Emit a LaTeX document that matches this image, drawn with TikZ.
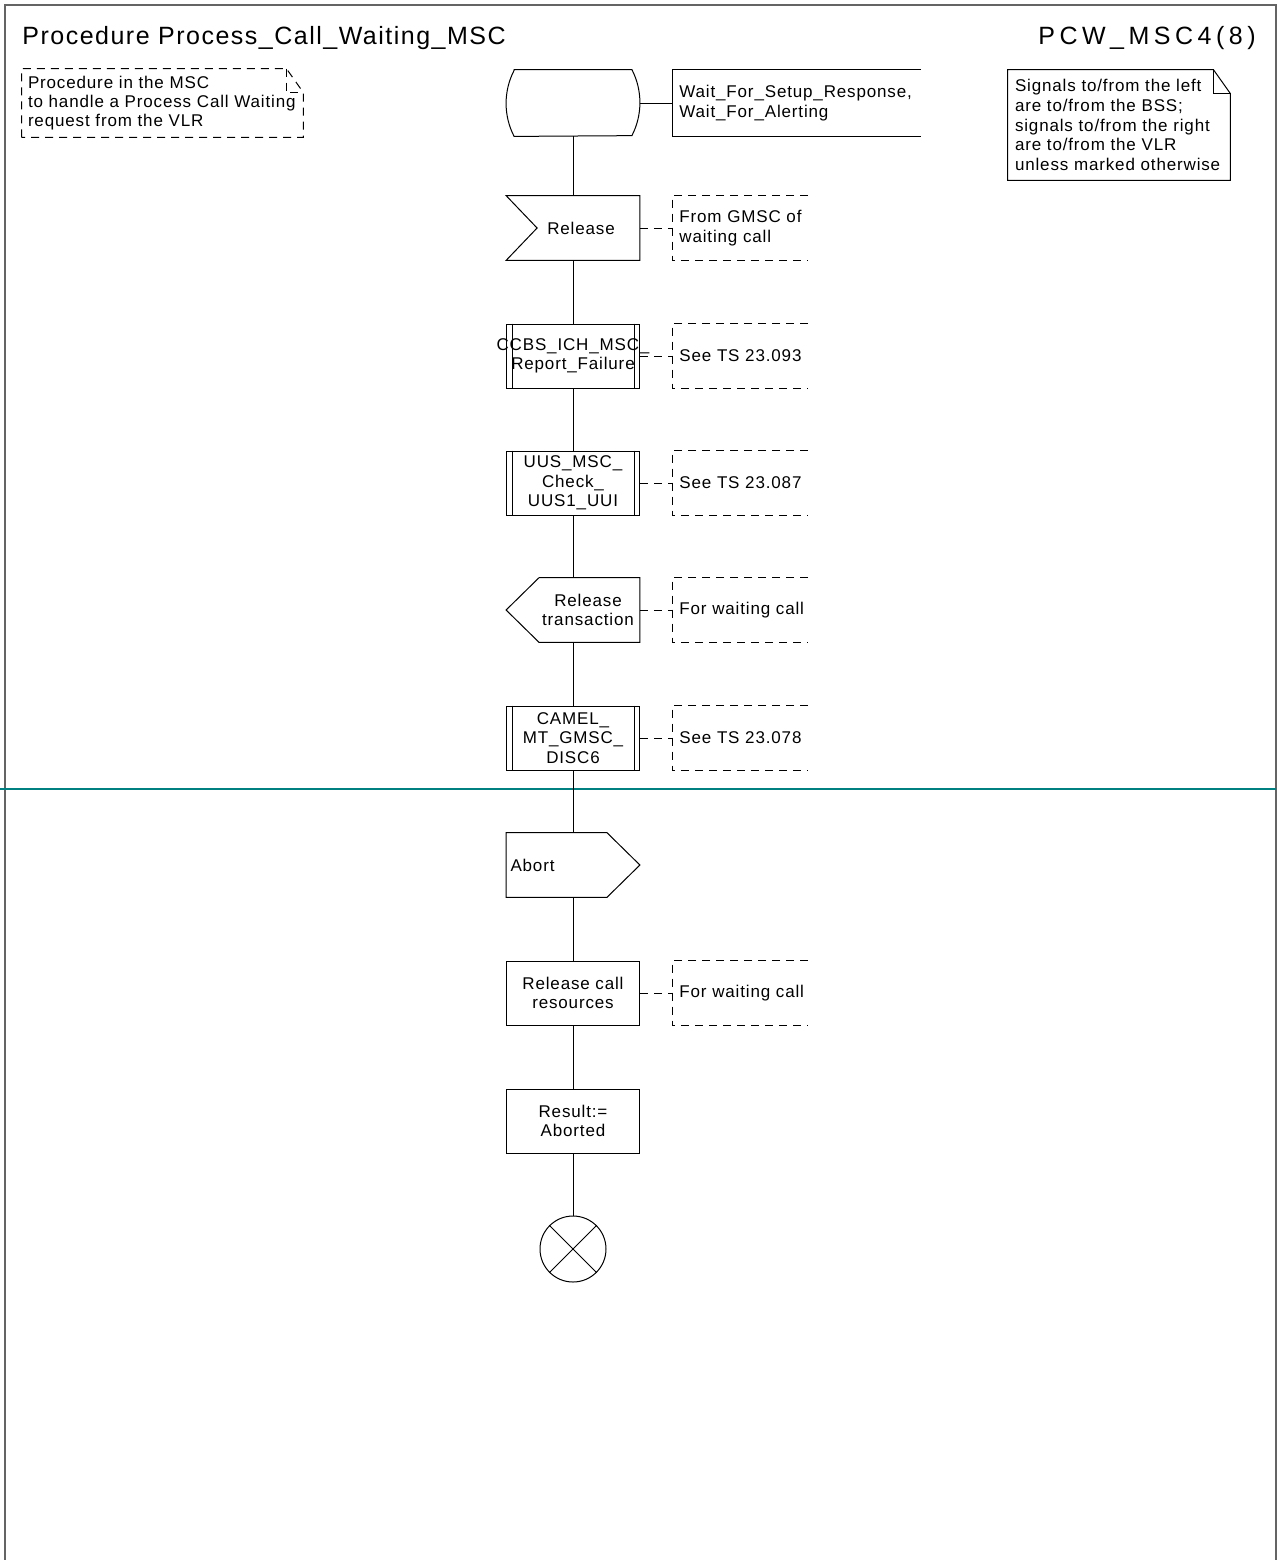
\documentclass[tikz,border=0pt]{standalone}
\usepackage{fontspec}
\setmainfont{Liberation Sans}[LetterSpace=5]
\newfontfamily\titlefont{Liberation Sans}[LetterSpace=6]
\newfontfamily\pagefont{Liberation Sans}[LetterSpace=18]
\usetikzlibrary{calc}
\definecolor{framegray}{RGB}{100,100,100}
\definecolor{tealline}{RGB}{0,128,128}
\begin{document}
\begin{tikzpicture}[x=0.5pt,y=-0.5pt,
  fs/.style={font=\fontsize{8.5}{9.8}\selectfont},
  ghost/.style={minimum width=66.5pt, minimum height=32pt, inner sep=0pt, align=center, fs},
  flowbox/.style={ghost, draw, line width=0.5pt},
  cmt/.style={anchor=west, text width=80pt, inner xsep=3.5pt, inner ysep=0pt, minimum height=32pt, align=left, fs},
  flow/.style={line width=0.5pt},
  cdash/.style={dash pattern=on 4pt off 3pt, line width=0.5pt},
  frameline/.style={draw=framegray, line width=0.8pt},
]
\useasboundingbox (0,0) rectangle (1278,1560);
% frame
\draw[frameline] (5,1560) -- (5,5) -- (1276,5) -- (1276,1560);
% titles
\node[anchor=base west, inner sep=0pt, font=\titlefont\fontsize{12.5}{14}\selectfont] (title) at (22,44) {Procedure Process\_Call\_Waiting\_MSC};
\node[anchor=base east, inner sep=0pt, font=\pagefont\fontsize{12.5}{14}\selectfont] (page) at (1256,44) {PCW\_MSC4(8)};

% top-left comment
\node[minimum width=140.5pt, minimum height=34pt, text width=134.5pt, inner xsep=3pt, inner ysep=0pt, align=left, font=\fontsize{8.5}{9.3}\selectfont] (note1) at (162.5,103) {Procedure in the MSC\\to handle a Process Call Waiting\\request from the VLR};
\draw[cdash] (note1.south west) -- (note1.north west) -- ($(note1.north east)+(-8.5pt,0)$) -- ($(note1.north east)+(0,-12pt)$) -- (note1.south east) -- cycle;
\draw[cdash] ($(note1.north east)+(-8.5pt,0)$) -- ($(note1.north east)+(-8.5pt,-12pt)$) -- ($(note1.north east)+(0,-12pt)$);

% top-right note
\node[fs, minimum width=111pt, minimum height=55pt, text width=104pt, inner xsep=3.5pt, inner ysep=0pt, align=left] (note2) at (1119,125) {Signals to/from the left\\are to/from the BSS;\\signals to/from the right\\are to/from the VLR\\unless marked otherwise};
\draw[flow] (note2.south west) -- (note2.north west) -- ($(note2.north east)+(-8.5pt,0)$) -- ($(note2.north east)+(0,-12pt)$) -- (note2.south east) -- cycle;
\draw[flow] ($(note2.north east)+(-8.5pt,0)$) -- ($(note2.north east)+(-8.5pt,-12pt)$) -- ($(note2.north east)+(0,-12pt)$);

% start state
\node[ghost, minimum height=33pt] (st) at (573,103) {};
\draw[flow] ($(st.north west)+(4pt,0)$) -- ($(st.north east)+(-4pt,0)$) arc[start angle=27.3, end angle=-27.3, radius=36pt] -- ($(st.south west)+(4pt,0)$) arc[start angle=207.3, end angle=152.7, radius=36pt] -- cycle;
\node[anchor=west, minimum width=124pt, text width=117pt, inner xsep=3.5pt, inner ysep=0pt, minimum height=33pt, align=left, fs] (sl) at (672,103) {Wait\_For\_Setup\_Response,\\Wait\_For\_Alerting};
\draw[flow] (sl.north east) -- (sl.north west) -- (sl.south west) -- (sl.south east);
\draw[flow] (st.east) -- (sl.west);

% Release input
\node[ghost] (rel) at (573,228) {\hspace*{8pt}Release};
\draw[flow] (rel.north west) -- (rel.north east) -- (rel.south east) -- (rel.south west) -- ($(rel.west)+(15.5pt,0)$) -- cycle;
\node[cmt] (c1) at (672,228) {From GMSC of\\waiting call};

% CCBS procedure
\node[flowbox] (ccbs) at (573,356) {\makebox[60pt]{CCBS\_ICH\_MSC\_}\\Report\_Failure};
\node[cmt] (c2) at (672,356) {See TS 23.093};

% UUS procedure
\node[flowbox] (uus) at (573,483) {UUS\_MSC\_\\Check\_\\UUS1\_UUI};
\node[cmt] (c3) at (672,483) {See TS 23.087};

% Release transaction output (left)
\node[ghost] (reltr) at (573,610) {};
\draw[flow] ($(reltr.north west)+(16.5pt,0)$) -- (reltr.north east) -- (reltr.south east) -- ($(reltr.south west)+(16.5pt,0)$) -- (reltr.west) -- cycle;
\node[fs, align=center, inner sep=0pt] (reltrtext) at ($(reltr)+(7.5pt,0)$) {Release\\transaction};
\node[cmt] (c4) at (672,610) {For waiting call};

% CAMEL procedure
\node[flowbox] (camel) at (573,738) {CAMEL\_\\MT\_GMSC\_\\DISC6};
\node[cmt] (c5) at (672,738) {See TS 23.078};

% procedure double bars
\foreach \n in {ccbs,uus,camel}{
  \draw[flow] ($(\n.north west)+(3pt,0)$) -- ($(\n.south west)+(3pt,0)$);
  \draw[flow] ($(\n.north east)+(-3pt,0)$) -- ($(\n.south east)+(-3pt,0)$);
}

% separator line
\draw[draw=tealline, line width=1pt] (0,789) -- (1276,789);

% Abort output (right)
\node[ghost, text width=62.5pt, inner xsep=2pt, align=left] (abort) at (573,865) {Abort};
\draw[flow] (abort.north west) -- ($(abort.north east)+(-16.5pt,0)$) -- (abort.east) -- ($(abort.south east)+(-16.5pt,0)$) -- (abort.south west) -- cycle;

% tasks
\node[flowbox] (rcr) at (573,993) {Release call\\resources};
\node[cmt] (c6) at (672,993) {For waiting call};
\node[flowbox] (res) at (573,1121) {Result:=\\Aborted};

% end
\node[draw, circle, minimum size=33pt, inner sep=0pt, line width=0.5pt] (end) at (573,1249) {};
\draw[flow] (end.north west) -- (end.south east);
\draw[flow] (end.north east) -- (end.south west);

% comment brackets and dashed links
\foreach \n/\c in {rel/c1,ccbs/c2,uus/c3,reltr/c4,camel/c5,rcr/c6}{
  \draw[cdash] ($(\c.north west)+(68pt,0)$) -- (\c.north west) -- (\c.south west) -- ($(\c.south west)+(68pt,0)$);
  \draw[cdash] (\n.east) -- (\c.west);
}

% flow line
\draw[flow] (st.south) -- (rel.north);
\draw[flow] (rel.south) -- (ccbs.north);
\draw[flow] (ccbs.south) -- (uus.north);
\draw[flow] (uus.south) -- (reltr.north);
\draw[flow] (reltr.south) -- (camel.north);
\draw[flow] (camel.south) -- (abort.north);
\draw[flow] (abort.south) -- (rcr.north);
\draw[flow] (rcr.south) -- (res.north);
\draw[flow] (res.south) -- (end.north);
\end{tikzpicture}
\end{document}
